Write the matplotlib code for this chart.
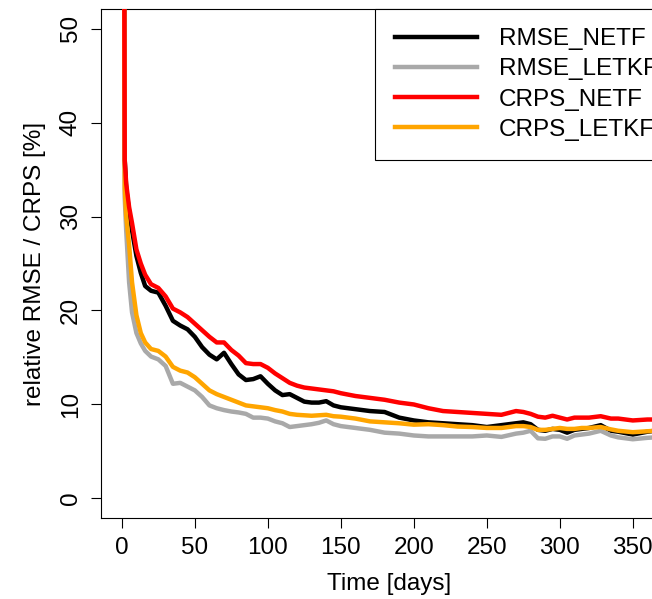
import matplotlib
matplotlib.use("Agg")
import matplotlib.pyplot as plt

plt.rcParams['font.family'] = ['Liberation Sans', 'DejaVu Sans']

# values (day, relative error in %)
days = [1, 2, 3, 5, 7, 10, 13, 16, 20, 25, 30, 35, 40, 45, 50, 55, 60, 65, 70, 75,
        80, 85, 90, 95, 100, 105, 110, 115, 120, 125, 130, 135, 140, 145, 150, 160,
        170, 180, 190, 200, 210, 220, 230, 240, 250, 260, 270, 275, 280, 285, 290,
        295, 300, 305, 310, 315, 320, 328, 335, 340, 350, 360, 365]

rmse_netf = [100, 36, 33, 30.5, 28.5, 25.8, 24.0, 22.6, 22.1, 21.9, 20.5, 18.9, 18.4,
             18.0, 17.2, 16.1, 15.3, 14.8, 15.5, 14.3, 13.2, 12.6, 12.7, 13.0, 12.2,
             11.5, 11.0, 11.1, 10.7, 10.3, 10.2, 10.2, 10.35, 9.9, 9.7, 9.5, 9.3, 9.2,
             8.6, 8.3, 8.1, 8.0, 7.9, 7.8, 7.6, 7.8, 8.0, 8.1, 7.9, 7.3, 7.2, 7.4, 7.3,
             7.0, 7.3, 7.4, 7.5, 7.8, 7.2, 7.1, 6.8, 7.1, 7.2]

rmse_letkf = [90, 32, 28.5, 23, 19.8, 17.6, 16.5, 15.7, 15.1, 14.8, 14.1, 12.2, 12.3,
              11.9, 11.5, 10.8, 9.9, 9.6, 9.4, 9.25, 9.15, 9.0, 8.6, 8.6, 8.5, 8.2,
              8.0, 7.6, 7.7, 7.8, 7.9, 8.05, 8.3, 7.9, 7.7, 7.5, 7.3, 7.0, 6.9, 6.7,
              6.6, 6.6, 6.6, 6.6, 6.7, 6.55, 6.9, 7.0, 7.2, 6.4, 6.35, 6.6, 6.6, 6.35,
              6.7, 6.8, 6.9, 7.2, 6.7, 6.5, 6.3, 6.45, 6.5]

crps_netf = [100, 36, 33.5, 31, 29.3, 26.5, 25.0, 23.8, 22.8, 22.4, 21.5, 20.2, 19.8,
             19.3, 18.6, 17.9, 17.2, 16.6, 16.6, 15.8, 15.2, 14.4, 14.3, 14.3, 13.9,
             13.3, 12.8, 12.3, 12.0, 11.8, 11.7, 11.6, 11.5, 11.4, 11.2, 10.9, 10.7,
             10.5, 10.2, 10.0, 9.6, 9.3, 9.2, 9.1, 9.0, 8.9, 9.3, 9.2, 9.0, 8.7, 8.6,
             8.8, 8.6, 8.4, 8.6, 8.6, 8.6, 8.75, 8.5, 8.5, 8.3, 8.4, 8.4]

crps_letkf = [90, 33, 30, 27, 23, 19.5, 17.6, 16.6, 15.9, 15.7, 15.1, 14.0, 13.6,
              13.4, 12.9, 12.2, 11.5, 11.1, 10.8, 10.5, 10.2, 9.9, 9.8, 9.7, 9.6, 9.4,
              9.25, 9.0, 8.9, 8.85, 8.8, 8.85, 8.9, 8.75, 8.7, 8.5, 8.2, 8.1, 8.0, 7.85,
              7.9, 7.8, 7.65, 7.6, 7.5, 7.5, 7.7, 7.7, 7.6, 7.3, 7.3, 7.4, 7.5, 7.4,
              7.4, 7.5, 7.5, 7.6, 7.35, 7.2, 7.05, 7.15, 7.2]

labels = ["RMSE_NETF", "RMSE_LETKF", "CRPS_NETF", "CRPS_LETKF"]
colors = ["black", "darkgray", "red", "orange"]
# red sits on top of the others where they overlap at the start
zorders = [2, 2, 4, 3]

fig = plt.figure(figsize=(6.52, 5.99), dpi=100)
# the plot box runs past the right edge of the image (cropped R figure)
ax = fig.add_axes([100.5 / 652, 81 / 599, 577 / 652, 509 / 599])

for vals, lab, col, z in zip([rmse_netf, rmse_letkf, crps_netf, crps_letkf], labels, colors, zorders):
    ax.plot(days, vals, color=col, lw=3.2, label=lab, solid_joinstyle='round', zorder=z)

ax.set_xlim(-14.6, 380.6)
ax.set_ylim(-2.08, 52.08)
ax.set_xticks(range(0, 351, 50))
ax.set_yticks(range(0, 51, 10))

ax.tick_params(axis='both', direction='out', length=7.5, width=0.8, labelsize=17.5)
ax.tick_params(axis='x', pad=6)
ax.tick_params(axis='y', pad=6)
for lbl in ax.get_yticklabels():
    lbl.set_rotation(90)
    lbl.set_va('center')
for sp in ax.spines.values():
    sp.set_linewidth(0.8)

ax.set_xlabel("Time [days]", fontsize=17.5, labelpad=10)
ax.set_ylabel("relative RMSE / CRPS [%]", fontsize=17.5, labelpad=10)

leg = ax.legend(loc='upper right', bbox_to_anchor=(1, 1), borderaxespad=0,
                fontsize=17.5, handlelength=3.4, handletextpad=0.9,
                borderpad=0.8, labelspacing=0.33, fancybox=False, framealpha=1)
leg.set_zorder(10)
leg.get_frame().set_edgecolor('black')
leg.get_frame().set_linewidth(0.8)

fig.savefig("out.png", dpi=100)
